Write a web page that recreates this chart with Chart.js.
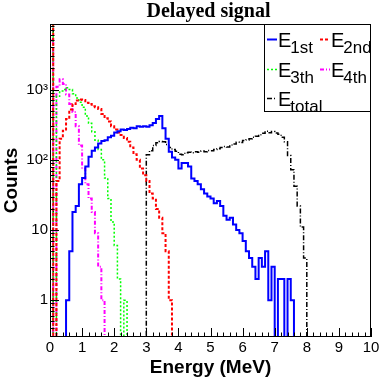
<!DOCTYPE html>
<html lang="en">
<head>
    <meta charset="UTF-8">
    <title>Delayed signal</title>
    <script src="https://cdn.jsdelivr.net/npm/chart.js"></script>
    <style>
        body { margin: 0; background: #fff; }
    </style>
</head>
<body>
    <canvas id="chart" width="382" height="382"></canvas>

    <script>
        // histogram bins, 0.1 MeV wide, every array starts at 0 MeV
        const binWidth = 0.1;
        // first bin of 2nd/3th/total holds the zero-energy entries (goes off the top of the frame)
        const e1st = [0, 0, 0, 0, 0, 1, 5, 18, 22, 45,
            55, 80, 110, 135, 150, 170, 185, 190, 210, 220,
            245, 255, 270, 265, 275, 285, 280, 300, 295, 300,
            295, 310, 335, 380, 420, 280, 200, 130, 108, 100,
            75, 90, 90, 80, 54, 50, 45, 38, 33, 30,
            28, 24, 26, 22, 16, 14, 15, 12, 10, 9,
            7, 5, 4, 3, 2, 4, 3, 5, 1, 3,
            0, 2, 2, 0, 2, 1];
        const e2nd = [20000, 0, 50, 200, 260, 380, 520, 620, 700, 720,
            710, 650, 620, 580, 560, 530, 450, 390, 350, 300,
            270, 245, 225, 205, 180, 150, 120, 100, 75, 60,
            50, 33, 28, 20, 15, 9, 5, 1];
        const e3th = [20000, 0, 800, 950, 1000, 1060, 1000, 870, 760, 660,
            560, 420, 330, 250, 190, 140, 100, 55, 28, 13,
            6, 2, 0, 1];
        const e4th = [5000, 0, 1100, 1400, 1200, 850, 620, 480, 300, 160,
            75, 45, 28, 18, 9, 3, 1];
        const eTotal = [20000, 0, 0, 0, 0, 0, 0, 0, 0, 0,
            0, 0, 0, 0, 0, 0, 0, 0, 0, 0,
            0, 0, 0, 0, 0, 0, 0, 0, 0, 0,
            118, 135, 160, 175, 182, 180, 165, 150, 140, 132,
            120, 118, 126, 128, 126, 130, 128, 133, 130, 136,
            135, 140, 144, 150, 154, 152, 162, 168, 178, 176,
            188, 192, 200, 210, 216, 228, 238, 255, 242, 252,
            240, 230, 210, 180, 115, 72, 42, 22, 11, 4];

        const seriesSubs = ['1st', '2nd', '3th', '4th', 'total'];
        const seriesColors = ['#0000ff', '#ff0000', '#00ff00', '#ff00ff', '#000000'];

        const xTickLabels = ['0', '1', '2', '3', '4', '5', '6', '7', '8', '9', '10'];
        const yTickValues = [1, 10, 100, 1000];
        const yTickLabels = ['1', '10', '10\u00b2', '10\u00b3'];

        const yMin = 0.32;
        const yMax = 8570;
        const FONT = '"Liberation Sans", Arial, sans-serif';

        // empty bins are sent below the frame so the outline drops to the axis
        function toSteps(counts) {
            const floor = yMin / 10;
            const pts = [{ x: 0, y: floor }];
            counts.forEach((c, i) => {
                pts.push({ x: +(i * binWidth).toFixed(2), y: c > 0 ? c : floor });
            });
            pts.push({ x: +(counts.length * binWidth).toFixed(2), y: floor });
            return pts;
        }

        const datasets = [
            { data: toSteps(e1st), borderColor: seriesColors[0], borderWidth: 2, borderDash: [] },
            { data: toSteps(e2nd), borderColor: seriesColors[1], borderWidth: 2, borderDash: [3, 2] },
            { data: toSteps(e3th), borderColor: seriesColors[2], borderWidth: 1.5, borderDash: [2, 2] },
            { data: toSteps(e4th), borderColor: seriesColors[3], borderWidth: 2, borderDash: [4, 2, 1, 2] },
            { data: toSteps(eTotal), borderColor: seriesColors[4], borderWidth: 1.5, borderDash: [5, 2, 1, 2] }
        ].map(d => Object.assign(d, { stepped: true, pointRadius: 0, fill: false, tension: 0 }));

        // frame, inner ticks, title and legend in ROOT style
        const rootStyle = {
            id: 'rootStyle',
            afterDraw(chart) {
                const { ctx, chartArea: a, scales } = chart;
                const x = scales.x, y = scales.y;
                ctx.save();
                ctx.strokeStyle = '#000';
                ctx.lineWidth = 1;
                ctx.setLineDash([]);

                // ticks
                ctx.beginPath();
                for (let i = 0; i <= 50; i++) {
                    const px = Math.round(x.getPixelForValue(i * 0.2)) + 0.5;
                    const len = i % 5 === 0 ? 9 : 4.5;
                    ctx.moveTo(px, a.bottom);
                    ctx.lineTo(px, a.bottom - len);
                }
                for (let d = -1; d <= 3; d++) {
                    for (let m = 1; m <= 9; m++) {
                        const v = m * Math.pow(10, d);
                        if (v < yMin || v > yMax) continue;
                        const py = Math.round(y.getPixelForValue(v)) + 0.5;
                        const len = m === 1 ? 9 : 4.5;
                        ctx.moveTo(a.left, py);
                        ctx.lineTo(a.left + len, py);
                    }
                }
                ctx.stroke();

                // frame
                ctx.strokeRect(a.left + 0.5, a.top + 0.5, a.right - a.left - 1, a.bottom - a.top - 1);

                // title
                ctx.fillStyle = '#000';
                ctx.font = 'bold 20px "Liberation Serif", "Times New Roman", serif';
                ctx.textAlign = 'center';
                ctx.textBaseline = 'alphabetic';
                ctx.fillText('Delayed signal', (a.left + a.right) / 2 - 2, 17);

                // legend
                const bw = 107, bh = 88;
                const bx = a.right - bw, by = a.top;
                ctx.fillStyle = '#fff';
                ctx.fillRect(bx, by, bw, bh);
                ctx.strokeRect(bx + 0.5, by + 0.5, bw - 1, bh - 1);
                const cols = [3, 56];
                const rows = [15, 45, 74];
                seriesSubs.forEach((sub, i) => {
                    const ds = chart.data.datasets[i];
                    const lx = bx + cols[i % 2];
                    const ly = by + rows[Math.floor(i / 2)];
                    ctx.beginPath();
                    ctx.strokeStyle = ds.borderColor;
                    ctx.lineWidth = ds.borderWidth;
                    ctx.setLineDash(ds.borderDash);
                    ctx.moveTo(lx, ly + 0.5);
                    ctx.lineTo(lx + 10, ly + 0.5);
                    ctx.stroke();
                    ctx.setLineDash([]);
                    ctx.fillStyle = '#000';
                    ctx.textAlign = 'left';
                    ctx.font = '20px ' + FONT;
                    const tx = lx + 11;
                    ctx.fillText('E', tx, ly + 7.5);
                    const w = ctx.measureText('E').width;
                    ctx.font = '17px ' + FONT;
                    ctx.fillText(sub, tx + w - 1, ly + 14);
                });
                ctx.restore();
            }
        };

        new Chart(document.getElementById('chart').getContext('2d'), {
            type: 'line',
            data: { datasets: datasets },
            options: {
                responsive: false,
                animation: false,
                devicePixelRatio: 1,
                events: [],
                layout: { padding: { top: 24, right: 11, left: 0, bottom: 0 } },
                plugins: {
                    legend: { display: false },
                    title: { display: false },
                    tooltip: { enabled: false }
                },
                scales: {
                    x: {
                        type: 'linear',
                        min: 0,
                        max: 10,
                        grid: { display: false, drawTicks: false },
                        border: { display: false },
                        afterFit: s => { s.height = 45; },
                        ticks: {
                            stepSize: 1,
                            padding: 2,
                            color: '#000',
                            font: { family: FONT, size: 15 },
                            maxRotation: 0,
                            callback: v => xTickLabels[Math.round(v)]
                        },
                        title: {
                            display: true,
                            text: 'Energy (MeV)',
                            color: '#000',
                            font: { family: FONT, size: 19, weight: 'bold' },
                            padding: { top: 0, bottom: 3 }
                        }
                    },
                    y: {
                        type: 'logarithmic',
                        min: yMin,
                        max: yMax,
                        grid: { display: false, drawTicks: false },
                        border: { display: false },
                        afterFit: s => { s.width = 50; },
                        ticks: {
                            autoSkip: false,
                            padding: 2,
                            color: '#000',
                            font: { family: FONT, size: 15 },
                            callback: v => {
                                const k = yTickValues.findIndex(t => Math.abs(v / t - 1) < 1e-6);
                                return k >= 0 ? yTickLabels[k] : '';
                            }
                        },
                        title: {
                            display: true,
                            text: 'Counts',
                            color: '#000',
                            font: { family: FONT, size: 19, weight: 'bold' },
                            padding: { top: 0, bottom: 0 }
                        }
                    }
                }
            },
            plugins: [rootStyle]
        });
    </script>
</body>
</html>
